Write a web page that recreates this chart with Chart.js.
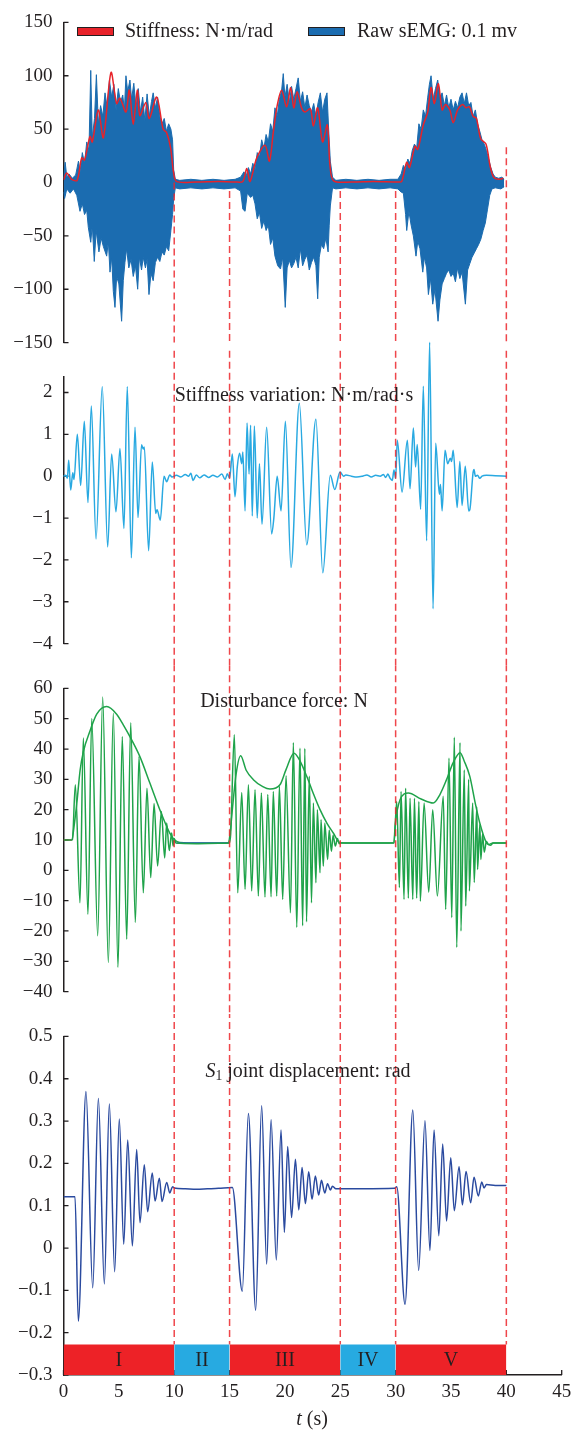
<!DOCTYPE html>
<html>
<head>
<meta charset="utf-8">
<script src="https://cdn.jsdelivr.net/npm/chart.js@4.4.1/dist/chart.umd.min.js"></script>
<style>
  body { margin: 0; background: #fff; width: 572px; height: 1437px; position: relative; overflow: hidden;
         font-family: 'Liberation Serif', 'DejaVu Serif', serif; color: #231f20; }
  canvas { position: absolute; left: 0; }
  .txt { position: absolute; white-space: nowrap; font-size: 20px; line-height: 1; transform: translateY(-50%); }
  .mid { transform: translate(-50%, -50%); }
  .box { position: absolute; width: 35px; height: 7px; border: 1px solid #231f20; }
  sub { font-size: 0.68em; vertical-align: -0.25em; line-height: 0; }
</style>
</head>
<body>
<canvas id="c1" width="572" height="365" style="top:0"></canvas>
<canvas id="c2" width="572" height="336" style="top:330px"></canvas>
<canvas id="c3" width="572" height="348" style="top:666px"></canvas>
<canvas id="c4" width="572" height="423" style="top:1014px"></canvas>

<div class="box" style="left:77px;top:27px;background:#e8232a"></div>
<div class="txt" style="left:125px;top:30px">Stiffness: N·m/rad</div>
<div class="box" style="left:308px;top:27px;background:#1b6cb0"></div>
<div class="txt" style="left:357px;top:30px">Raw sEMG: 0.1 mv</div>
<div class="txt mid" style="left:294px;top:394px">Stiffness variation: N·m/rad·s</div>
<div class="txt mid" style="left:284px;top:700px">Disturbance force: N</div>
<div class="txt mid" style="left:308px;top:1070px"><i>S</i><sub>1</sub> joint displacement: rad</div>
<div class="txt mid" style="left:312px;top:1418px"><i>t</i> (s)</div>

<script>
const SERIF = "'Liberation Serif', 'DejaVu Serif', serif";
const INK = '#231f20';

// time axis and phases
const phaseNames = ['I', 'II', 'III', 'IV', 'V'];
const phaseStart = [0, 10, 15, 25, 30];
const phaseEnd = [10, 15, 25, 30, 40];
const phaseFill = ['#ed2227', '#27aae1', '#ed2227', '#27aae1', '#ed2227'];
const phaseTop = -0.228;
const markerT = [10, 15, 25, 30, 40];

// panel 1: stiffness (red) and raw sEMG (blue band, upper / lower edges)
const stiffT = [0, 0.29, 0.74, 1.23, 1.64, 1.9, 2.39, 2.6, 3.14, 3.6, 4.29, 4.8, 5.1, 5.64, 5.94, 6.3, 6.67, 6.9, 7.43, 7.75, 8.42, 9.0, 9.3, 9.68, 9.92, 10.2, 12, 14, 15.5, 16.2, 16.55, 16.85, 17.45, 18.2, 18.6, 18.95, 19.3, 19.7, 20.16, 20.52, 20.8, 21.1, 21.5, 21.8, 22.3, 22.57, 22.96, 23.4, 23.83, 24.07, 24.4, 26, 28, 30.2, 30.55, 31.0, 31.25, 31.75, 32.0, 32.5, 32.9, 33.2, 33.5, 33.86, 34.2, 34.5, 34.9, 35.2, 35.6, 36.06, 36.35, 36.66, 37.0, 37.3, 37.68, 38.16, 38.54, 38.85, 39.28, 39.73];
const stiffV = [2.5, 9, 3, 2, 23, 21, 43, 38, 68, 42, 103, 74, 79, 66, 86.5, 54.6, 86.5, 62.6, 75, 60, 80, 50, 47, 32, 11, 1, 0.5, 1, 0.5, 1, 13, 1, 23, 35, 20, 47, 72, 86.5, 71, 89, 70, 85, 70, 66, 69, 53, 70, 38, 54, 16, 1.5, 0.5, 1, 0.5, 1, 19, 14, 34, 31, 54, 66, 89, 74, 92.5, 68, 73, 68, 56, 68, 73, 70, 71, 62, 60, 41, 36, 15, 5, 3, 4];

const emgTopT = [0, 0.15, 0.3, 0.5, 0.8, 1.1, 1.35, 1.5, 1.7, 1.9, 2.1, 2.3, 2.46, 2.6, 2.8, 2.97, 3.15, 3.35, 3.55, 3.75, 3.95, 4.15, 4.35, 4.55, 4.75, 4.95, 5.15, 5.35, 5.5, 5.64, 5.8, 6.0, 6.15, 6.35, 6.55, 6.75, 6.95, 7.15, 7.35, 7.55, 7.75, 7.95, 8.1, 8.3, 8.5, 8.7, 8.9, 9.1, 9.3, 9.5, 9.7, 9.85, 9.95, 10.1,
  10.5, 11.5, 12.5, 13.5, 14.5, 15.5, 16.0, 16.3, 16.5, 16.7, 16.9,
  17.1, 17.3, 17.5, 17.7, 17.9, 18.1, 18.3, 18.5, 18.7, 18.9, 19.1, 19.3, 19.5, 19.7, 19.85, 20.0, 20.2, 20.4, 20.6, 20.8, 21.0, 21.2, 21.4, 21.6, 21.8, 22.0, 22.2, 22.4, 22.6, 22.8, 23.0, 23.2, 23.4, 23.6, 23.8, 23.95, 24.1, 24.3,
  24.6, 25.5, 26.5, 27.5, 28.5, 29.5, 30.2, 30.5,
  30.7, 30.9, 31.1, 31.3, 31.5, 31.7, 31.9, 32.1, 32.3, 32.5, 32.7, 32.9, 33.05, 33.2, 33.4, 33.6, 33.8, 34.0, 34.2, 34.4, 34.6, 34.8, 35.0, 35.2, 35.4, 35.6, 35.8, 36.0, 36.2, 36.4, 36.6, 36.8, 37.0, 37.2, 37.4, 37.6, 37.8, 38.0, 38.2, 38.4, 38.6, 38.8, 39.0, 39.3, 39.6, 39.8];
const emgTopV = [4, 19, 5, 8, 4, 7, 20, 10, 28, 18, 38, 30, 105, 42, 60, 101, 55, 72, 62, 84, 70, 96, 80, 92, 68, 88, 75, 82, 68, 100, 85, 96, 78, 93, 70, 88, 66, 80, 58, 83, 62, 76, 84, 70, 80, 62, 55, 60, 48, 55, 50, 40, 12, 3,
  2, 3, 2, 3, 2, 3, 5, 10, 6, 14, 8,
  18, 12, 28, 24, 40, 32, 45, 38, 55, 48, 70, 62, 78, 86, 102, 80, 92, 75, 90, 78, 88, 98, 76, 85, 70, 82, 72, 66, 74, 62, 75, 84, 66, 78, 84, 50, 20, 5,
  2, 3, 2, 3, 2, 3, 3, 8,
  16, 12, 22, 18, 30, 36, 32, 55, 50, 68, 62, 80, 92, 100, 78, 88, 96, 80, 84, 72, 82, 70, 78, 68, 76, 70, 80, 84, 74, 84, 72, 75, 62, 68, 55, 48, 40, 36, 30, 22, 14, 8, 5, 4, 5, 3];
const emgLowT = [0, 0.1, 0.3, 0.6, 0.9, 1.2, 1.49, 1.7, 1.9, 2.1, 2.24, 2.46, 2.6, 2.78, 2.95, 3.2, 3.4, 3.6, 3.9, 4.05, 4.2, 4.35, 4.5, 4.65, 4.8, 5.0, 5.25, 5.4, 5.55, 5.7, 5.9, 6.1, 6.3, 6.5, 6.7, 6.85, 7.05, 7.2, 7.4, 7.55, 7.72, 7.9, 8.1, 8.3, 8.5, 8.7, 8.9, 9.1, 9.3, 9.5, 9.7, 9.85, 9.95, 10.1,
  10.5, 11.5, 12.5, 13.5, 14.5, 15.5, 16.0, 16.2, 16.4, 16.6, 16.9,
  17.1, 17.3, 17.5, 17.7, 17.9, 18.1, 18.3, 18.5, 18.7, 18.9, 19.1, 19.35, 19.6, 19.8, 20.03, 20.2, 20.4, 20.6, 20.8, 21.0, 21.2, 21.4, 21.6, 21.8, 22.0, 22.2, 22.4, 22.6, 22.8, 22.96, 23.1, 23.3, 23.5, 23.7, 23.9, 24.0, 24.1, 24.3,
  24.6, 25.5, 26.5, 27.5, 28.5, 29.5, 30.2, 30.5,
  30.7, 30.9, 31.0, 31.2, 31.4, 31.6, 31.84, 32.0, 32.2, 32.45, 32.6, 32.8, 32.96, 33.15, 33.35, 33.55, 33.83, 34.0, 34.2, 34.4, 34.6, 34.8, 35.0, 35.2, 35.4, 35.6, 35.8, 36.0, 36.3, 36.5, 36.7, 36.9, 37.1, 37.3, 37.5, 37.7, 37.9, 38.1, 38.3, 38.5, 38.7, 39.0, 39.5, 39.8];
const emgLowV = [-9, -15, -6, -10, -6, -12, -27, -20, -30, -26, -42, -56, -40, -74, -45, -65, -52, -60, -69, -55, -84, -70, -102, -117, -88, -95, -130, -92, -75, -62, -80, -72, -88, -78, -100, -70, -82, -70, -80, -72, -105, -85, -92, -75, -70, -74, -65, -68, -60, -64, -45, -30, -15, -5,
  -6, -5, -6, -5, -6, -5, -8, -25, -27, -10, -14,
  -12, -20, -34, -28, -43, -36, -45, -40, -58, -52, -69, -78, -81, -70, -117, -80, -73, -80, -76, -70, -80, -62, -78, -72, -68, -82, -75, -70, -78, -109, -70, -58, -62, -52, -65, -40, -22, -5,
  -6, -5, -6, -5, -6, -5, -6, -9,
  -10, -30, -45, -27, -40, -50, -69, -55, -62, -84, -70, -80, -105, -90, -114, -100, -130, -110, -95, -90, -85, -82, -88, -85, -93, -80, -90, -84, -114, -82, -76, -70, -66, -62, -58, -53, -45, -38, -25, -12, -6, -5, -6, -4];

// panel 2: stiffness variation
const varT = [0, 0.2, 0.35, 0.47, 0.65, 0.84, 0.95, 1.25, 1.55, 1.88, 2.21, 2.51, 2.94, 3.5, 3.99, 4.35, 4.74, 5.1, 5.46, 5.76, 6.13, 6.46, 6.73, 7.05, 7.2, 7.3, 7.69, 8.02, 8.33, 8.45, 8.74, 9.08, 9.32, 9.6, 9.8, 10.2, 10.6, 11.0, 11.3, 11.5, 11.7, 12.0, 12.3, 12.7, 13.1, 13.5, 13.9, 14.3, 14.6, 14.8, 15.0,
  15.25, 15.49, 15.7, 15.9, 16.1, 16.2, 16.4, 16.58, 16.76, 16.9, 17.05, 17.24, 17.5, 17.7, 17.93, 18.35, 18.8, 19.0, 19.3, 19.65, 20.04, 20.55, 21.3, 21.97, 22.8, 23.42, 24.1, 24.5, 24.98, 25.3, 25.5, 26.0, 26.5, 27.0, 27.4, 27.8, 28.2, 28.6, 28.9, 29.1, 29.3, 29.5, 29.7, 29.85, 30.0,
  30.15, 30.58, 31.06, 31.3, 31.6, 31.8, 31.95, 32.26, 32.5, 32.8, 33.07, 33.38, 33.62, 33.95, 34.05, 34.2, 34.46, 34.7, 34.94, 35.05, 35.2, 35.56, 35.8, 36.0, 36.29, 36.6, 36.7, 37.0, 37.08, 37.2, 37.4, 37.6, 37.8, 38.2, 39.0, 40.0];
const varV = [0, 0.02, -0.05, 0.38, -0.33, 0.08, -0.08, 1.0, -0.22, 1.31, -0.63, 1.68, -1.5, 2.14, -1.69, 0.53, -0.85, 0.66, -1.25, 2.14, -1.95, 1.17, -0.99, 0.75, 0.65, 0.7, -1.78, 0.34, -0.89, -0.8, -1.05, 0.0, -0.13, 0.03, -0.02, 0.02, -0.02, 0.04, 0.0, 0.07, -0.1, 0.03, -0.04, 0.03, -0.03, 0.02, -0.02, 0.05, -0.08, 0.06, -0.05,
  0.53, -0.49, 0.23, 0.55, 0.3, 0.58, -0.83, 1.27, 0.05, 1.22, -0.95, 1.2, -1.0, 0.3, -1.15, 1.17, -1.38, -1.0, 0.0, -0.83, 1.31, -2.18, 1.74, -1.64, 1.36, -2.31, 0.02, -0.32, 0.1, 0.0, 0.03, 0.0, -0.02, 0.0, 0.03, -0.02, 0.02, 0.0, 0.04, -0.03, 0.05, -0.05, -0.1, 0.15, -0.05,
  0.86, -0.38, 0.86, -0.3, 1.15, 0.22, 0.76, -0.79, 2.15, -1.54, 3.2, -3.17, 0.79, -0.43, -0.2, -0.83, 0.62, 0.3, 0.43, 0.35, 0.62, -0.75, 0.35, -0.7, 0.24, -0.83, -0.8, 0.1, 0.16, 0.0, 0.02, -0.05, 0.0, 0.02, 0.01, 0.0];

// panel 3: disturbance force (oscillation and its envelope)
const forceT = [0, 0.8, 1.07, 1.49, 1.79, 2.21, 2.55, 3.09, 3.54, 4.05, 4.5, 4.92, 5.31, 5.71, 6.07, 6.49, 6.82, 7.21, 7.54, 7.88, 8.18, 8.5, 8.84, 9.14, 9.32, 9.55, 9.77, 9.9, 10.0, 10.15, 12, 14, 14.98,
  15.1, 15.43, 15.74, 16.1, 16.4, 16.7, 17.0, 17.3, 17.6, 17.87, 18.2, 18.45, 18.75, 18.95, 19.26, 19.5, 19.8, 20.1, 20.5, 20.76, 21.07, 21.36, 21.6, 21.8, 21.95, 22.2, 22.4, 22.57, 22.8, 22.93, 23.17, 23.26, 23.47, 23.6, 23.86, 24.0, 24.2, 24.35, 24.55, 24.75, 24.9, 25.1, 27, 29.85,
  30.1, 30.34, 30.49, 30.76, 30.9, 31.15, 31.3, 31.55, 31.7, 31.9, 32.1, 32.23, 32.57, 32.99, 33.35, 33.77, 34.3, 34.52, 34.82, 35.07, 35.3, 35.52, 35.82, 35.9, 36.2, 36.33, 36.6, 36.66, 36.96, 37.1, 37.33, 37.4, 37.6, 37.7, 37.85, 38.0, 38.2, 38.4, 38.6, 38.8, 39.3, 40];
const forceV = [10, 10, 28.2, -10.7, 43.6, -14.5, 50.1, -21.6, 57.2, -30.4, 51.8, -32, 44.1, -22.7, 48.7, -17.2, 37.5, -7.4, 27.1, -2.4, 22, 1.4, 19.4, 4.1, 15.6, 6.5, 12.3, 8.0, 10.5, 9, 8.8, 8.9, 9,
  12, 44.7, -7.4, 25.7, -6.3, 28.2, -6.8, 26.6, -8.5, 25.5, -8.8, 25, -8.7, 26, -8.5, 27.7, -9.6, 31.2, -14, 42.1, -18.8, 40.3, -18.3, 40.2, -17, 31, -10.7, 22.2, -4.1, 20, -0.8, 16.7, 1.4, 15.5, 3.6, 13.3, 6.3, 11.6, 8.0, 10.5, 8.8, 9, 9, 9,
  22.7, -5.7, 26, -9.6, 27.1, -9.2, 23.8, -9.6, 23.8, -9.2, 22.7, -10.2, 22.2, -7.2, 20, -8.5, 24.4, -12.9, 37, -15.6, 43.9, -25.4, 42.1, -20, 33.1, -11.8, 30, -6.8, 22.2, -4, 21, 0.3, 15, 3.6, 12, 6, 9.5, 8.5, 8.8, 9.0, 9.0, 9.0];
const envT = [0.8, 1.2, 1.5, 1.8, 2.4, 3.0, 3.9, 4.8, 5.4, 6.0, 6.9, 7.8, 8.7, 9.6, 10.07, 10.5, 12.5, 14.9, 15.1, 15.25, 15.6, 16.0, 16.5, 17.15, 18.0, 18.65, 19.55, 20.1, 20.82, 21.3, 21.97, 22.6, 23.17, 23.8, 24.37, 24.98, 27.5, 29.85, 29.95, 30.4, 31.15, 32.3, 33.4, 34.0, 34.6, 35.2, 35.82, 36.2, 36.7, 37.2, 37.6, 38.2, 38.4, 38.6, 38.8, 39.3, 40];
const envV = [10, 22, 33, 39.2, 46, 51.5, 54, 51.5, 48, 44.1, 37.5, 28.8, 20, 12.3, 9.9, 9.2, 9.0, 9.1, 14, 20, 32, 37.8, 33, 29.9, 27.6, 26.8, 28.2, 33.2, 38.6, 36.5, 31, 25, 20, 15.5, 12.3, 9.1, 9.0, 9.1, 14.5, 23.3, 25.5, 23.5, 22.2, 25, 29.9, 35.5, 38.8, 36, 31, 22, 15.6, 9.1, 8.5, 8.3, 9.0, 9.0, 9.0];
const forceStartT = [0, 0.75];
const forceStartV = [10, 10];
const forceRestT = [10.2, 14.9];
const forceRestV = [9, 9];

// panel 4: S1 joint displacement
const dispT = [0, 1.04, 1.34, 2.03, 2.64, 3.15, 3.69, 4.14, 4.62, 5.04, 5.44, 5.8, 6.22, 6.61, 6.91, 7.3, 7.6, 8.02, 8.27, 8.66, 8.9, 9.32, 9.6, 9.85, 10.0, 11, 12, 13, 14, 15.25,
  16.15, 16.7, 17.36, 17.9, 18.35, 18.75, 19.22, 19.65, 19.95, 20.25, 20.6, 20.95, 21.25, 21.55, 21.85, 22.15, 22.45, 22.75, 23.05, 23.3, 23.6, 23.85, 24.1, 24.3, 24.6, 25, 27, 29.9, 30.1,
  30.85, 31.55, 32.08, 32.65, 33.1, 33.47, 33.9, 34.25, 34.6, 34.98, 35.3, 35.73, 36.03, 36.36, 36.78, 37.08, 37.47, 37.78, 37.99, 38.2, 39, 40];
const dispV = [0.121, 0.121, -0.173, 0.37, -0.094, 0.353, -0.085, 0.34, -0.056, 0.305, 0.009, 0.255, 0.005, 0.233, 0.06, 0.197, 0.086, 0.177, 0.111, 0.165, 0.11, 0.155, 0.13, 0.145, 0.142, 0.14, 0.139, 0.14, 0.141, 0.143,
  -0.102, 0.318, -0.147, 0.336, -0.038, 0.303, -0.028, 0.279, 0.037, 0.24, 0.072, 0.21, 0.09, 0.19, 0.105, 0.18, 0.115, 0.17, 0.125, 0.16, 0.13, 0.152, 0.137, 0.146, 0.14, 0.14, 0.14, 0.141, 0.145,
  -0.133, 0.326, -0.053, 0.301, -0.006, 0.279, 0.029, 0.246, 0.064, 0.213, 0.088, 0.192, 0.102, 0.181, 0.107, 0.167, 0.123, 0.156, 0.142, 0.15, 0.148, 0.148];

// where the dashed phase markers start/end in each panel (own units)
const markTop1 = [0, -8, -8, -8, 33];

const pts = (ts, vs) => ts.map((t, i) => ({ x: t, y: vs[i] }));
const minus = (s) => s.replace('-', '\u2212');

function markers(tops, bottom) {
  return markerT.map((t, i) => ({
    type: 'line',
    data: [{ x: t, y: Array.isArray(tops) ? tops[i] : tops }, { x: t, y: bottom }],
    borderColor: 'rgba(236,38,44,0.85)',
    borderWidth: 1.5,
    borderDash: [7, 4],
    pointRadius: 0,
    clip: false,
    order: 0,
  }));
}

function trace(ts, vs, color, extra) {
  return Object.assign({
    type: 'line',
    data: pts(ts, vs),
    borderColor: color,
    backgroundColor: color,
    borderWidth: 1.5,
    pointRadius: 0,
    cubicInterpolationMode: 'monotone',
    order: 1,
  }, extra || {});
}

const inwardTicks = {
  id: 'inwardTicks',
  beforeDatasetsDraw(chart) {
    const { ctx, chartArea: a, scales } = chart;
    ctx.save();
    ctx.strokeStyle = INK;
    ctx.lineWidth = 1.3;
    ctx.beginPath();
    scales.y.ticks.forEach((t) => {
      const p = scales.y.getPixelForValue(t.value);
      ctx.moveTo(a.left, p);
      ctx.lineTo(a.left + 5, p);
    });
    if (scales.x.options.display) {
      scales.x.ticks.forEach((t) => {
        const p = scales.x.getPixelForValue(t.value);
        ctx.moveTo(p, a.bottom);
        ctx.lineTo(p, a.bottom - 5);
      });
    }
    ctx.stroke();
    ctx.restore();
  },
};

const phaseLabels = {
  id: 'phaseLabels',
  afterDatasetsDraw(chart) {
    const { ctx, scales } = chart;
    ctx.save();
    ctx.fillStyle = INK;
    ctx.font = `20px ${SERIF}`;
    ctx.textAlign = 'center';
    ctx.textBaseline = 'middle';
    phaseNames.forEach((name, i) => {
      const x = scales.x.getPixelForValue((phaseStart[i] + phaseEnd[i]) / 2);
      const y = scales.y.getPixelForValue((phaseTop + scales.y.min) / 2);
      ctx.fillText(name, x, y + 1);
    });
    ctx.restore();
  },
};

function makeChart(id, cfg) {
  const tickFont = { family: SERIF, size: 19 };
  const xScale = {
    type: 'linear',
    min: 0,
    max: 45,
    display: !!cfg.showX,
    grid: { display: false, drawTicks: false },
    border: { display: true, color: INK, width: 1.5 },
    ticks: { stepSize: 5, color: INK, font: tickFont, padding: 6, maxRotation: 0 },
  };
  if (cfg.showX) {
    xScale.afterFit = (s) => { s.height = 62; s.paddingLeft = 0; s.paddingRight = 0; };
  }
  return new Chart(document.getElementById(id), {
    data: { datasets: cfg.datasets },
    plugins: [inwardTicks].concat(cfg.plugins || []),
    options: {
      responsive: false,
      animation: false,
      devicePixelRatio: 1,
      layout: { padding: { left: 0, right: 10.3, top: cfg.padTop, bottom: cfg.padBottom } },
      plugins: { legend: { display: false }, tooltip: { enabled: false } },
      scales: {
        x: xScale,
        y: {
          type: 'linear',
          min: cfg.yMin,
          max: cfg.yMax,
          grid: { display: false, drawTicks: false },
          border: { display: true, color: INK, width: 1.5 },
          ticks: {
            stepSize: cfg.yStep,
            includeBounds: false,
            color: INK,
            font: tickFont,
            padding: 11,
            callback: cfg.fmt,
          },
          afterFit: (s) => { s.width = 63.5; },
        },
      },
    },
  });
}

// panel 1
makeChart('c1', {
  yMin: -150, yMax: 150, yStep: 50, padTop: 15, padBottom: 14,
  fmt: (v) => minus(String(v)),
  datasets: [
    ...markers(markTop1, -150),
    trace(stiffT, stiffV, '#e8232a', { order: 1, tension: 0.3, cubicInterpolationMode: 'default' }),
    trace(emgTopT, emgTopV, '#1b6cb0', { order: 2, borderWidth: 1, cubicInterpolationMode: 'default', tension: 0, fill: '+1' }),
    trace(emgLowT, emgLowV, '#1b6cb0', { order: 3, borderWidth: 1, cubicInterpolationMode: 'default', tension: 0 }),
  ],
});

// panel 2
makeChart('c2', {
  yMin: -4, yMax: 2.37, yStep: 1, padTop: 47, padBottom: 21,
  fmt: (v) => minus(String(v)),
  datasets: [
    ...markers(3.0, -4.6),
    trace(varT, varV, '#29a9e1', { clip: false }),
  ],
});

// panel 3
makeChart('c3', {
  yMin: -40, yMax: 60, yStep: 10, padTop: 22, padBottom: 21,
  fmt: (v) => minus(String(v)),
  datasets: [
    ...markers(68, -48),
    trace(forceT, forceV, '#1fa34a'),
    trace(envT, envV, '#1fa34a', { order: 2 }),
    trace(forceStartT, forceStartV, '#d7262b', { order: 1 }),
    trace(forceRestT, forceRestV, '#2f63b6', { order: 1 }),
  ],
});

// panel 4
makeChart('c4', {
  yMin: -0.3, yMax: 0.5, yStep: 0.1, padTop: 22, padBottom: 0, showX: true,
  fmt: (v) => minus(String(Number(v.toFixed(1)))),
  plugins: [phaseLabels],
  datasets: [
    ...markers(0.56, phaseTop),
    trace(dispT, dispV, '#2a4a9f'),
    ...phaseNames.map((n, i) => ({
      type: 'line',
      data: [{ x: phaseStart[i], y: phaseTop }, { x: phaseEnd[i], y: phaseTop }],
      borderWidth: 0,
      pointRadius: 0,
      backgroundColor: phaseFill[i],
      fill: { value: -0.3 },
      order: -1,
    })),
  ],
});
</script>
</body>
</html>
